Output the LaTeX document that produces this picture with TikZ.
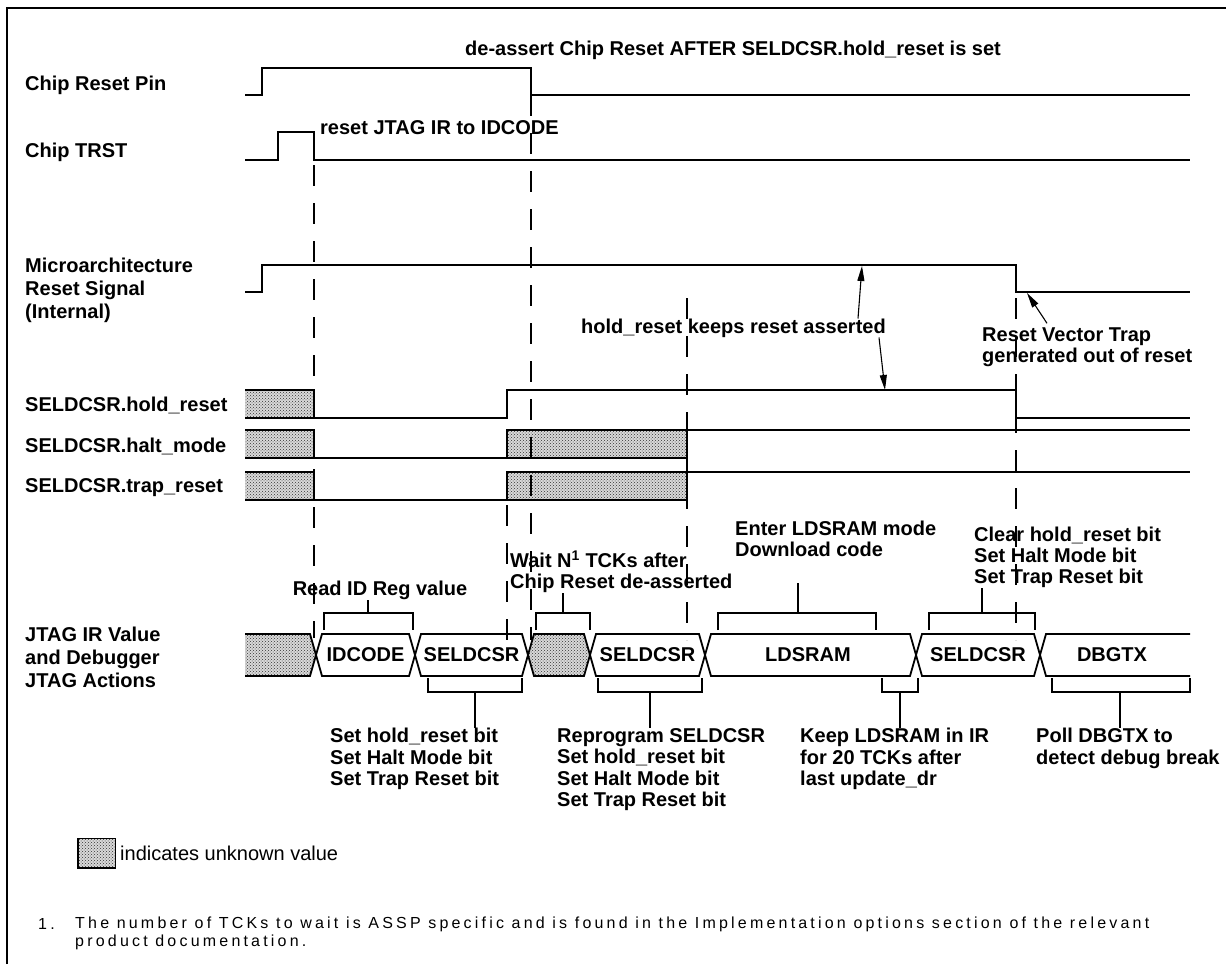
\documentclass[tikz,border=0pt]{standalone}
\usepackage{fontspec}
\setmainfont{Liberation Sans}
\newfontfamily\notefont[LetterSpace=20]{Liberation Sans}
\usetikzlibrary{patterns, arrows.meta, calc}

\begin{document}
\begin{tikzpicture}[x=1pt, y=-1pt]

\tikzset{
  sig/.style={line width=1.8pt},
  guide/.style={line width=1.8pt, dash pattern=on 21pt off 17pt},
  unk/.style={preaction={fill=gray!30}, pattern=crosshatch dots, pattern color=gray!40!black},
  brk/.style={line width=1.6pt},
  zeiger/.style={line width=1.1pt, -{Triangle[length=15pt, width=7pt]}},
  lbl/.style={font=\bfseries\fontsize{20}{23}\selectfont, align=left, anchor=west, inner sep=0pt},
  txt/.style={font=\bfseries\fontsize{20}{21}\selectfont, align=left, inner sep=0pt},
  txtu/.style={font=\bfseries\fontsize{20}{21.5}\selectfont, align=left, inner sep=0pt},
  wert/.style={font=\bfseries\fontsize{20}{21}\selectfont, inner sep=0pt}
}

% 0. Rahmen und Bildgroesse
\useasboundingbox (0,0) rectangle (1226,964);
\draw[line width=2.6pt] (7,964) -- (7,8) -- (1226,8);

% 1. Signalnamen links
\node[lbl] (crp) at (25,85) {Chip Reset Pin};
\node[lbl] (trst) at (25,152) {Chip TRST};
\node[lbl] (mrs) at (25,290) {Microarchitecture\\Reset Signal\\(Internal)};
\node[lbl] (hold) at (25,405) {SELDCSR.hold\_reset};
\node[lbl] (halt) at (25,446) {SELDCSR.halt\_mode};
\node[lbl] (trapr) at (25,488) {SELDCSR.trap\_reset};
\node[lbl] (jtag) at (25,657) {JTAG IR Value\\and Debugger\\JTAG Actions};

% 2. Signalverlaeufe
\draw[sig] (245,95) -- (262,95) -- (262,68) -- (531,68) -- (531,95) -- (1190,95);
\draw[sig] (245,160) -- (278,160) -- (278,132) -- (314,132) -- (314,160) -- (1190,160);
\draw[sig] (245,292) -- (262,292) -- (262,265) -- (1016,265) -- (1016,292) -- (1190,292);

% hold_reset
\fill[unk] (245,390) rectangle (314,418);
\draw[sig] (245,390) -- (314,390) -- (314,418);
\draw[sig] (245,418) -- (507,418) -- (507,390) -- (1016,390) -- (1016,418) -- (1190,418);

% halt_mode
\fill[unk] (245,430) rectangle (314,458);
\fill[unk] (507,430) rectangle (687,458);
\draw[sig] (245,430) -- (314,430) -- (314,458);
\draw[sig] (245,458) -- (687,458) -- (687,430);
\draw[sig] (507,458) -- (507,430) -- (1190,430);

% trap_reset
\fill[unk] (245,472) rectangle (314,500);
\fill[unk] (507,472) rectangle (687,500);
\draw[sig] (245,472) -- (314,472) -- (314,500);
\draw[sig] (245,500) -- (687,500) -- (687,472);
\draw[sig] (507,500) -- (507,472) -- (1190,472);

% 3. Gestrichelte Hilfslinien
\draw[guide] (314,165) -- (314,638);
\draw[guide] (531,95) -- (531,640);
\draw[guide] (507,505) -- (507,640);
\draw[guide] (687,298) -- (687,640);
\draw[guide] (1016,298) -- (1016,640);

% 4. Anmerkungen mit Pfeilen
\node[txt, anchor=west] (deassert) at (465,50) {de-assert Chip Reset AFTER SELDCSR.hold\_reset is set};
\node[txt, anchor=west] (irreset) at (320,128) {reset JTAG IR to IDCODE};
\node[txt, anchor=east] (keeps) at (886,328) {hold\_reset keeps reset asserted};
\node[txt, anchor=west] (vtrap) at (982,347) {Reset Vector Trap\\generated out of reset};

\coordinate (mrhigh) at (862,266);
\coordinate (hrhigh) at (885,390);
\coordinate (mrlow) at (1027,293);
\draw[zeiger] ($(keeps.north -| mrhigh)+(-4,0)$) -- (mrhigh);
\draw[zeiger] ($(keeps.south -| hrhigh)+(-6,0)$) -- (hrhigh);
\draw[zeiger] ($(vtrap.north west)+(65,-4)$) -- (mrlow);

% 5. Klammern ueber dem Bus
\node[txt, anchor=south] (readid) at (380,600) {Read ID Reg value};
\coordinate (bRid) at (368,613);
\draw[brk] (324,630) -- (324,613) -- (413,613) -- (413,630);
\draw[brk] (readid.south -| bRid) -- (bRid);

\node[txt, anchor=south west] (wait) at (510,593) {Wait N\textsuperscript{1} TCKs after\\Chip Reset de-asserted};
\coordinate (bWait) at (563,613);
\draw[brk] (536,630) -- (536,613) -- (590,613) -- (590,630);
\draw[brk] (wait.south -| bWait) -- (bWait);

\node[txt, anchor=south west] (enter) at (735,557) {Enter LDSRAM mode\\Download code};
\coordinate (sLds) at (798,583);
\coordinate (bLds) at (798,613);
\draw[brk] (718,630) -- (718,613) -- (876,613) -- (876,630);
\draw[brk] (sLds) -- (bLds);

\node[txt, anchor=south west] (clear) at (974,588) {Clear hold\_reset bit\\Set Halt Mode bit\\Set Trap Reset bit};
\coordinate (bClr) at (982,613);
\draw[brk] (929,630) -- (929,613) -- (1035,613) -- (1035,630);
\draw[brk] (clear.south -| bClr) -- (bClr);

% 6. JTAG Bus
\fill[unk] (245,634) -- (310,634) -- (316,655) -- (310,676) -- (245,676) -- cycle;
\draw[sig] (245,634) -- (310,634) -- (316,655) -- (310,676) -- (245,676);
\draw[sig] (316,655) -- (322,634) -- (409,634) -- (415,655) -- (409,676) -- (322,676) -- cycle;
\draw[sig] (415,655) -- (421,634) -- (522,634) -- (528,655) -- (522,676) -- (421,676) -- cycle;
\fill[unk] (528,655) -- (534,634) -- (584,634) -- (590,655) -- (584,676) -- (534,676) -- cycle;
\draw[sig] (528,655) -- (534,634) -- (584,634) -- (590,655) -- (584,676) -- (534,676) -- cycle;
\draw[sig] (590,655) -- (596,634) -- (699,634) -- (705,655) -- (699,676) -- (596,676) -- cycle;
\draw[sig] (705,655) -- (711,634) -- (910,634) -- (916,655) -- (910,676) -- (711,676) -- cycle;
\draw[sig] (916,655) -- (922,634) -- (1034,634) -- (1040,655) -- (1034,676) -- (922,676) -- cycle;
\draw[sig] (1190,634) -- (1046,634) -- (1040,655) -- (1046,676) -- (1190,676);

\node[wert] (idcode) at (365.5,655) {IDCODE};
\node[wert] (sel1) at (471.5,655) {SELDCSR};
\node[wert] (sel2) at (647.5,655) {SELDCSR};
\node[wert] (ldsram) at (808,655) {LDSRAM};
\node[wert] (sel3) at (978,655) {SELDCSR};
\node[wert] (dbgtx) at (1112,655) {DBGTX};

% 7. Klammern unter dem Bus
\coordinate (bSel1) at (475,692);
\draw[brk] (428,678) -- (428,692) -- (522,692) -- (522,678);
\node[txtu, anchor=north west] (sethold) at (330,728) {Set hold\_reset bit\\Set Halt Mode bit\\Set Trap Reset bit};
\draw[brk] (bSel1) -- (sethold.north -| bSel1);

\coordinate (bSel2) at (650,692);
\draw[brk] (598,678) -- (598,692) -- (702,692) -- (702,678);
\node[txtu, anchor=north west] (reprog) at (557,728) {Reprogram SELDCSR\\Set hold\_reset bit\\Set Halt Mode bit\\Set Trap Reset bit};
\draw[brk] (bSel2) -- (reprog.north -| bSel2);

\coordinate (bKeep) at (900,692);
\draw[brk] (882,678) -- (882,692) -- (918,692) -- (918,678);
\node[txtu, anchor=north west] (keepir) at (800,728) {Keep LDSRAM in IR\\for 20 TCKs after\\last update\_dr};
\draw[brk] (bKeep) -- (keepir.north -| bKeep);

\coordinate (bPoll) at (1120,692);
\draw[brk] (1052,678) -- (1052,692) -- (1190,692) -- (1190,678);
\node[txtu, anchor=north west] (poll) at (1036,728) {Poll DBGTX to\\detect debug break};
\draw[brk] (bPoll) -- (poll.north -| bPoll);

% 8. Legende
\fill[unk] (78,838) rectangle (115,868);
\draw[line width=1pt] (78,838) rectangle (115,868);
\draw[line width=2pt] (78,838) -- (78,868) -- (115,868);
\node[anchor=west, inner sep=0pt, font=\fontsize{20}{22}\selectfont] (legend) at (120,853) {indicates unknown value};

% 9. Fussnote
\node[anchor=west, inner sep=0pt, font=\notefont\fontsize{16}{18}\selectfont] (fnnum) at (38,924) {1.};
\node[anchor=west, align=left, inner sep=0pt, font=\notefont\fontsize{16}{18}\selectfont] (fntext) at (75,933) {The number of TCKs to wait is ASSP specific and is found in the Implementation options section of the relevant\\product documentation.};

\end{tikzpicture}
\end{document}
